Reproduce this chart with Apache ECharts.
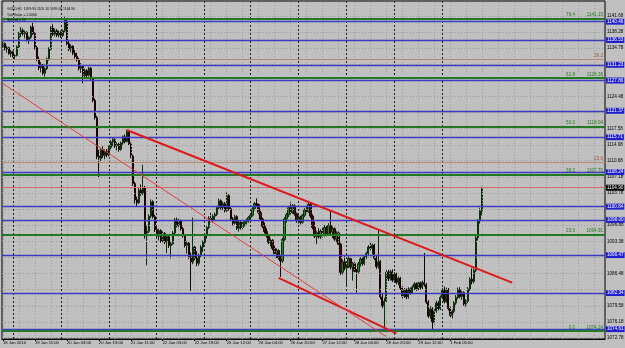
<!DOCTYPE html>
<html><head><meta charset="utf-8">
<script src="https://cdn.jsdelivr.net/npm/echarts@6/dist/echarts.min.js"></script>
<style>html,body{margin:0;padding:0;background:#c0c0c0}#c{width:625px;height:348px}</style>
</head><body><div id="c"></div>
<script>
const opens = [
1135.2,1135.8,1134.6,1134.9,1133.6,1134.0,1133.1,1133.2,1135.1,1137.9,
1138.6,1137.9,1138.2,1136.6,1137.1,1139.3,1137.9,1134.9,1132.4,1130.6,
1131.2,1129.4,1130.4,1132.5,1134.6,1139.1,1137.8,1138.5,1137.6,1138.2,
1137.5,1138.5,1140.9,1135.8,1134.6,1135.2,1133.7,1133.0,1132.3,1130.5,
1130.9,1128.9,1130.0,1129.0,1130.5,1128.3,1123.6,1119.9,1111.6,1111.1,
1113.0,1111.8,1112.7,1111.9,1113.5,1114.7,1115.2,1113.9,1114.2,1113.1,
1114.5,1115.8,1114.8,1116.9,1114.3,1111.7,1105.8,1102.3,1101.7,1104.4,
1103.7,1104.9,1094.6,1095.6,1098.8,1101.9,1098.7,1095.9,1094.5,1095.7,
1093.5,1095.1,1093.3,1094.4,1092.5,1092.9,1095.2,1098.0,1096.8,1097.8,
1096.1,1094.6,1092.5,1093.0,1090.1,1089.0,1092.2,1089.8,1088.7,1090.4,
1092.2,1093.2,1094.6,1096.4,1098.4,1097.9,1098.8,1099.2,1100.6,1102.1,
1100.6,1101.5,1100.0,1103.2,1100.4,1098.2,1097.3,1098.7,1096.2,1097.5,
1096.4,1097.2,1097.6,1098.0,1098.5,1099.0,1100.4,1101.5,1101.3,1099.6,
1098.2,1096.6,1095.5,1094.6,1093.2,1093.6,1091.9,1090.8,1091.4,1089.9,
1089.2,1093.8,1098.2,1099.1,1100.6,1099.6,1101.0,1099.3,1097.8,1098.6,
1097.5,1099.0,1100.1,1099.8,1101.3,1098.8,1096.4,1094.5,1095.2,1094.4,
1095.6,1094.7,1096.4,1094.9,1096.8,1095.4,1096.1,1093.9,1095.2,1092.8,
1086.8,1089.0,1087.7,1088.1,1089.7,1087.9,1088.6,1087.0,1086.9,1088.6,
1089.6,1088.7,1090.1,1090.8,1092.2,1091.9,1092.6,1089.8,1088.0,1089.1,
1081.5,1079.6,1080.6,1086.8,1085.4,1086.9,1085.1,1086.4,1084.6,1085.5,
1083.4,1081.7,1083.0,1081.5,1083.2,1082.4,1083.6,1084.3,1083.2,1084.5,
1083.5,1084.6,1084.1,1080.4,1077.4,1078.9,1076.0,1078.5,1080.2,1079.0,
1081.4,1082.9,1080.5,1083.0,1079.0,1077.5,1078.4,1080.2,1081.4,1083.0,
1081.6,1082.4,1080.0,1080.6,1083.2,1085.3,1084.8,1087.2,1094.2,1097.8,
1099.95];
const highs = [
1136.2,1136.0,1135.3,1135.1,1134.4,1134.2,1133.5,1135.4,1138.3,1139.3,
1139.0,1138.6,1138.4,1137.4,1139.6,1140.2,1138.2,1135.3,1133.0,1131.8,
1131.4,1130.7,1132.8,1135.0,1139.5,1139.9,1139.0,1138.9,1138.6,1138.5,
1138.8,1141.5,1141.2,1136.4,1135.6,1135.4,1134.4,1133.8,1132.7,1131.6,
1131.1,1130.4,1130.3,1130.8,1130.7,1128.6,1124.0,1120.3,1113.0,1113.4,
1113.8,1113.1,1113.2,1113.9,1115.1,1115.6,1115.5,1114.6,1114.5,1114.8,
1116.1,1116.3,1117.3,1117.0,1114.6,1112.0,1106.2,1103.0,1104.8,1105.6,
1109.8,1105.3,1096.9,1099.2,1102.4,1102.2,1099.1,1096.6,1096.1,1096.0,
1095.5,1095.4,1094.8,1094.7,1093.3,1095.6,1098.4,1098.5,1098.2,1098.1,
1096.5,1095.0,1093.4,1093.3,1091.0,1098.5,1092.6,1091.3,1090.8,1092.6,
1093.6,1095.1,1096.8,1098.8,1099.5,1099.2,1099.6,1101.0,1102.6,1102.4,
1101.9,1101.8,1103.9,1103.5,1100.7,1098.6,1099.1,1099.0,1097.9,1097.8,
1097.6,1097.9,1098.3,1098.8,1099.3,1100.7,1101.8,1102.6,1101.6,1100.0,
1098.5,1097.4,1096.2,1095.0,1094.0,1093.9,1092.5,1091.9,1091.7,1090.5,
1094.2,1098.6,1099.5,1101.0,1101.8,1101.4,1101.3,1099.6,1099.0,1098.9,
1099.3,1100.5,1101.0,1101.8,1101.6,1099.2,1097.6,1095.6,1096.2,1096.0,
1096.5,1096.9,1096.7,1097.3,1100.1,1096.6,1096.4,1095.6,1095.5,1093.1,
1089.5,1090.4,1088.5,1090.2,1090.1,1089.0,1089.0,1087.5,1089.0,1090.0,
1090.1,1090.5,1091.2,1092.6,1093.3,1092.9,1092.9,1090.5,1095.8,1089.4,
1082.2,1081.3,1087.2,1087.3,1087.3,1087.4,1086.8,1086.7,1085.9,1085.8,
1083.8,1083.4,1083.3,1083.6,1083.5,1084.0,1084.7,1084.6,1084.9,1084.8,
1085.0,1090.9,1084.5,1080.8,1079.5,1079.3,1078.9,1080.7,1080.6,1081.8,
1083.4,1083.7,1083.5,1083.4,1079.4,1078.8,1080.6,1081.9,1083.5,1083.6,
1082.8,1082.7,1081.0,1083.6,1085.7,1087.6,1087.6,1094.6,1098.2,1100.6,
1105.10];
const lows = [
1134.6,1134.3,1133.8,1133.4,1132.9,1132.8,1132.3,1133.0,1134.8,1137.2,
1137.5,1136.9,1136.2,1135.7,1136.8,1137.6,1134.5,1132.0,1130.1,1129.6,
1129.0,1128.7,1130.1,1132.1,1134.3,1137.4,1137.3,1137.2,1137.1,1137.0,
1137.2,1138.2,1135.4,1134.2,1133.9,1133.3,1132.6,1131.9,1130.0,1129.5,
1127.3,1128.5,1128.6,1128.7,1127.9,1123.2,1119.5,1111.0,1107.2,1110.6,
1111.3,1111.0,1111.4,1111.6,1113.1,1113.8,1113.4,1112.9,1112.6,1112.8,
1114.1,1114.4,1114.6,1113.9,1111.2,1105.3,1101.5,1100.8,1101.4,1103.2,
1103.3,1094.0,1088.3,1095.2,1098.4,1098.3,1095.4,1094.0,1093.6,1093.1,
1093.0,1092.8,1090.9,1092.0,1089.7,1092.6,1094.9,1096.4,1096.3,1095.7,
1094.2,1092.1,1090.8,1089.6,1082.8,1088.5,1089.4,1088.1,1088.2,1090.0,
1091.1,1092.8,1094.0,1096.0,1097.5,1097.4,1097.9,1098.8,1100.2,1100.2,
1100.1,1099.6,1099.7,1100.0,1097.8,1096.8,1097.0,1095.8,1095.5,1095.9,
1096.0,1096.6,1097.0,1097.4,1098.0,1098.7,1100.0,1100.9,1099.2,1097.8,
1096.2,1095.1,1094.2,1092.8,1092.3,1091.5,1090.4,1089.8,1089.5,1085.8,
1088.8,1093.4,1097.4,1098.6,1099.2,1099.3,1098.9,1097.4,1097.2,1097.0,
1097.2,1098.6,1099.4,1099.5,1098.4,1096.0,1094.1,1092.8,1094.0,1093.9,
1094.2,1094.4,1094.5,1094.6,1095.0,1094.1,1093.5,1093.2,1092.4,1086.2,
1086.3,1087.2,1083.6,1087.7,1087.4,1085.0,1086.6,1082.4,1086.5,1088.0,
1088.2,1088.3,1089.6,1090.4,1091.5,1090.6,1089.4,1087.5,1087.6,1081.0,
1079.1,1074.4,1080.2,1084.9,1085.0,1084.7,1084.8,1084.2,1084.0,1083.0,
1081.2,1081.3,1081.0,1081.1,1082.0,1082.1,1083.0,1082.8,1082.9,1083.1,
1083.2,1083.7,1080.0,1077.0,1076.8,1074.6,1075.6,1078.1,1078.6,1078.7,
1081.0,1080.1,1080.2,1078.6,1077.0,1076.9,1078.0,1079.8,1081.0,1081.2,
1080.9,1079.6,1079.4,1080.2,1082.8,1084.2,1084.4,1086.8,1093.6,1097.2,
1099.00];
const closes = [
1135.8,1134.6,1134.9,1133.6,1134.0,1133.1,1133.2,1135.1,1137.9,1138.6,
1137.9,1138.2,1136.6,1137.1,1139.3,1137.9,1134.9,1132.4,1130.6,1131.2,
1129.4,1130.4,1132.5,1134.6,1139.1,1137.8,1138.5,1137.6,1138.2,1137.5,
1138.5,1140.9,1135.8,1134.6,1135.2,1133.7,1133.0,1132.3,1130.5,1130.9,
1128.9,1130.0,1129.0,1130.5,1128.3,1123.6,1119.9,1111.6,1111.1,1113.0,
1111.8,1112.7,1111.9,1113.5,1114.7,1115.2,1113.9,1114.2,1113.1,1114.5,
1115.8,1114.8,1116.9,1114.3,1111.7,1105.8,1102.3,1101.7,1104.4,1103.7,
1104.9,1094.6,1095.6,1098.8,1101.9,1098.7,1095.9,1094.5,1095.7,1093.5,
1095.1,1093.3,1094.4,1092.5,1092.9,1095.2,1098.0,1096.8,1097.8,1096.1,
1094.6,1092.5,1093.0,1090.1,1089.0,1092.2,1089.8,1088.7,1090.4,1092.2,
1093.2,1094.6,1096.4,1098.4,1097.9,1098.8,1099.2,1100.6,1102.1,1100.6,
1101.5,1100.0,1103.2,1100.4,1098.2,1097.3,1098.7,1096.2,1097.5,1096.4,
1097.2,1097.6,1098.0,1098.5,1099.0,1100.4,1101.5,1101.3,1099.6,1098.2,
1096.6,1095.5,1094.6,1093.2,1093.6,1091.9,1090.8,1091.4,1089.9,1089.2,
1093.8,1098.2,1099.1,1100.6,1099.6,1101.0,1099.3,1097.8,1098.6,1097.5,
1099.0,1100.1,1099.8,1101.3,1098.8,1096.4,1094.5,1095.2,1094.4,1095.6,
1094.7,1096.4,1094.9,1096.8,1095.4,1096.1,1093.9,1095.2,1092.8,1086.8,
1089.0,1087.7,1088.1,1089.7,1087.9,1088.6,1087.0,1086.9,1088.6,1089.6,
1088.7,1090.1,1090.8,1092.2,1091.9,1092.6,1089.8,1088.0,1089.1,1081.5,
1079.6,1080.6,1086.8,1085.4,1086.9,1085.1,1086.4,1084.6,1085.5,1083.4,
1081.7,1083.0,1081.5,1083.2,1082.4,1083.6,1084.3,1083.2,1084.5,1083.5,
1084.6,1084.1,1080.4,1077.4,1078.9,1076.0,1078.5,1080.2,1079.0,1081.4,
1082.9,1080.5,1083.0,1079.0,1077.5,1078.4,1080.2,1081.4,1083.0,1081.6,
1082.4,1080.0,1080.6,1083.2,1085.3,1084.8,1087.2,1094.2,1097.8,1099.95,
1104.90];

const tickLabels = ['18 Jan 2010','19 Jan 11:00','20 Jan 03:00','20 Jan 19:00','21 Jan 11:00',
  '22 Jan 03:00','22 Jan 19:00','25 Jan 12:00','26 Jan 04:00','26 Jan 20:00',
  '27 Jan 12:00','28 Jan 04:00','28 Jan 20:00','29 Jan 12:00','1 Feb 05:00'];
const tickBars = [0,16,32,48,64,80,96,112,128,144,160,176,192,208,224];
const daySeparatorBars = [5,29,53,77,101,124,148,172,196,220];

const priceGrid = [1141.68,1138.28,1134.78,1131.38,1127.88,1124.48,1120.98,1117.58,1114.08,1110.68,
  1107.18,1103.78,1100.28,1096.88,1093.38,1089.98,1086.48,1083.08,1079.58,1076.18,1072.78];
const priceGridLabels = ['1141.68','1138.28','1134.78','','','1124.48','','1117.58','1114.08','1110.68',
  '1107.18','1103.78','','1096.88','1093.38','','1086.48','','1079.58','1076.18','1072.78'];

const srLevels = [1140.46,1136.53,1131.23,1127.86,1121.37,1115.71,1108.24,1100.84,1098.00,1090.47,1082.34,1074.61];
const fibNames = ['76.4','61.8','50.0','38.2','23.6','0.0'];
const fibPrices = [1141.15,1128.36,1118.04,1107.70,1094.91,1074.24];
const fib2Names = ['38.2','23.6'];
const fib2Prices = [1132.40,1110.30];
const currentPrice = 1104.90;
const headerLines = ['GOLD,H1  1099.95 1105.10 1099.00 1104.90','Tick Value = 1.0000','Spread = 50'];
// trend lines: [bar1, price1, bar2, price2]
const trendThick = [[62,1117.26,255,1084.56],[138,1085.60,197,1073.69]];
const trendThin = [[0,1127.18,192,1072.98]];

const TOTAL_BARS = 302;
const FONT = "'Liberation Sans', Arial, sans-serif";

const categories = [];
for (let i = 0; i < TOTAL_BARS; i++) categories.push(String(i));
const candleData = opens.map((o, i) => [o, closes[i], lows[i], highs[i]]);

// background grid
const gridLines = [];
priceGrid.forEach((v, k) => {
  gridLines.push({
    yAxis: v,
    lineStyle: {color: '#9a9a9a', type: [1, 2], width: 1},
    label: {show: priceGridLabels[k] !== '', formatter: priceGridLabels[k], position: 'end',
      distance: 2, fontSize: 4.6, color: '#000', fontFamily: FONT}
  });
});
for (let b = 0; b < TOTAL_BARS; b += 8) {
  gridLines.push({xAxis: b, lineStyle: {color: '#9a9a9a', type: [1, 2], width: 1}, label: {show: false}});
}
daySeparatorBars.forEach(b => {
  gridLines.push({xAxis: b, lineStyle: {color: '#202020', type: [2, 2], width: 1}, label: {show: false}});
});

// objects
const objLines = [];
srLevels.forEach(v => {
  objLines.push({
    yAxis: v,
    lineStyle: {color: '#3b3bc4', width: 1.4, type: 'solid'},
    label: {show: true, position: 'end', distance: 1, formatter: v.toFixed(2), fontSize: 4.6,
      color: '#ffffff', backgroundColor: '#1f1fd0', padding: [1, 1, 0, 1], fontFamily: FONT}
  });
});
fib2Prices.forEach((v, k) => {
  objLines.push({
    yAxis: v,
    lineStyle: {color: '#b58a6e', width: 1, type: 'solid'},
    label: {show: true, position: 'insideEndTop', distance: [2, 1], formatter: fib2Names[k],
      fontSize: 4.6, color: '#9a5a30', fontFamily: FONT}
  });
});
fibPrices.forEach((v, k) => {
  objLines.push({
    yAxis: v,
    lineStyle: {color: '#247a24', width: 1.8, type: 'solid'},
    label: {show: true, position: 'insideEndTop', distance: [2, 1], formatter: v.toFixed(2),
      fontSize: 4.6, color: '#1f7a1f', fontFamily: FONT}
  });
  objLines.push([
    {coord: [0, v], lineStyle: {color: 'rgba(0,0,0,0)', width: 1}, label: {show: true, position: 'insideEndTop', distance: [1, 1],
      formatter: fibNames[k], fontSize: 4.6, color: '#1f7a1f', fontFamily: FONT}},
    {coord: [287, v]}
  ]);
});
objLines.push({
  yAxis: currentPrice,
  lineStyle: {color: '#d46a6a', width: 1, type: 'solid'},
  label: {show: true, position: 'end', distance: 1, formatter: currentPrice.toFixed(2), fontSize: 4.6,
    color: '#ffffff', backgroundColor: '#000000', padding: [1, 1, 0, 1], fontFamily: FONT}
});
trendThick.forEach(t => {
  objLines.push([{coord: [t[0], t[1]], lineStyle: {color: '#e01818', width: 2, type: 'solid'}, label: {show: false}},
    {coord: [t[2], t[3]]}]);
});
trendThin.forEach(t => {
  objLines.push([{coord: [t[0], t[1]], lineStyle: {color: '#e04040', width: 1, type: 'solid'}, label: {show: false}},
    {coord: [t[2], t[3]]}]);
});

const chart = echarts.init(document.getElementById('c'), null, {renderer: 'canvas'});
chart.setOption({
  animation: false,
  backgroundColor: '#c0c0c0',
  title: {
    text: headerLines.join('\n'), left: 2, top: 1,
    textStyle: {fontSize: 3.4, lineHeight: 5.8, fontWeight: 'normal', color: '#000', fontFamily: FONT}
  },
  grid: {left: 0, right: 20, top: 1, bottom: 9, show: true, borderColor: '#000', borderWidth: 1, backgroundColor: 'transparent'},
  xAxis: {
    type: 'category', data: categories, boundaryGap: true,
    axisLine: {show: true, lineStyle: {color: '#000', width: 1}},
    axisTick: {show: true, alignWithLabel: true, length: 2, lineStyle: {color: '#000'},
      interval: (idx) => tickBars.indexOf(idx) >= 0},
    axisLabel: {
      show: true, interval: (idx) => tickBars.indexOf(idx) >= 0,
      formatter: (val, idx) => { const k = tickBars.indexOf(idx); return k >= 0 ? tickLabels[k] : ''; },
      align: 'left', margin: 2, fontSize: 4.2, color: '#000', fontFamily: FONT
    },
    splitLine: {show: false}
  },
  yAxis: {type: 'value', min: 1072.49, max: 1144.89, show: false, scale: true, splitLine: {show: false}},
  series: [
    {type: 'line', data: [], z: 1, silent: true,
      markLine: {silent: true, symbol: ['none', 'none'], animation: false, data: gridLines}},
    {type: 'candlestick', data: candleData, z: 2, barWidth: 1.7, silent: true,
      itemStyle: {color: '#1f8a1f', color0: '#4a0c0c', borderColor: '#0c300c', borderColor0: '#1a0303', borderWidth: 1}},
    {type: 'line', data: [], z: 3, silent: true,
      markLine: {silent: true, symbol: ['none', 'none'], animation: false, data: objLines}}
  ]
});
</script>
</body></html>
